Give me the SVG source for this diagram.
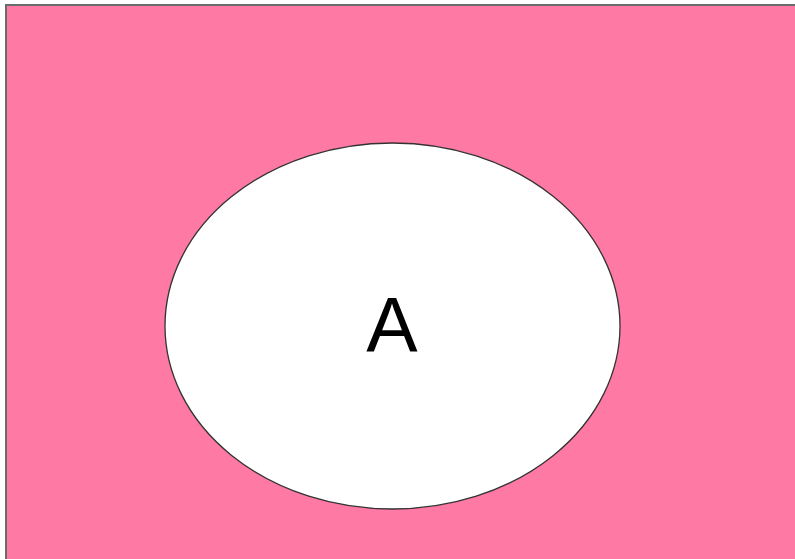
<svg xmlns="http://www.w3.org/2000/svg" width="795" height="559" viewBox="0 0 795 559">
<style>
.bg{fill:#ff79a5;stroke:#6b6b6b;stroke-width:2}
.set{fill:#ffffff;stroke:#333333;stroke-width:1.3}
.lbl{font-family:"Liberation Sans",Arial,sans-serif;font-size:77px;fill:#000000;text-anchor:middle}
</style>
<rect width="795" height="559" fill="#ffffff"/>
<g id="universe"><rect class="bg" x="6" y="5" width="800" height="570"/></g>
<g id="setA">
<ellipse class="set" cx="392.5" cy="326" rx="227.5" ry="183"/>
<text class="lbl" x="392" y="352">A</text>
</g>
<g id="connectors"/>
</svg>
